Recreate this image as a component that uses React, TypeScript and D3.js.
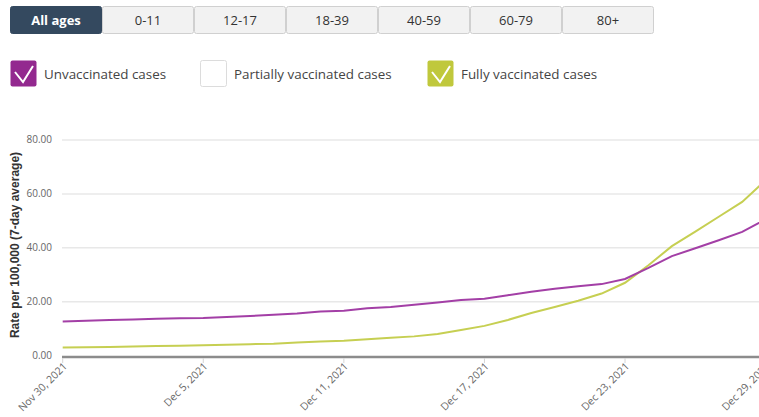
import React, { useEffect, useRef } from "react";
import * as d3 from "d3";

// age filter buttons
const ageGroups = ["All ages", "0-11", "12-17", "18-39", "40-59", "60-79", "80+"];
const activeAge = "All ages";

// legend entries
const seriesNames = ["Unvaccinated cases", "Partially vaccinated cases", "Fully vaccinated cases"];

// x tick labels, one every 6 points
const tickLabels = ["Nov 30, 2021", "Dec 5, 2021", "Dec 11, 2021", "Dec 17, 2021", "Dec 23, 2021", "Dec 29, 2021"];
const tickStep = 6;

const yTicks = [0, 20, 40, 60, 80];

// rate per 100,000 (7-day average)
const unvaccinated = [
  12.6, 12.9, 13.2, 13.4, 13.6, 13.8, 13.9, 14.3, 14.7, 15.1, 15.6, 16.3, 16.6, 17.5, 18.0, 18.8,
  19.7, 20.6, 21.1, 22.4, 23.7, 24.8, 25.7, 26.5, 28.4, 32.5, 36.9, 39.8, 42.8, 45.9, 50.5,
];
const fullyVaccinated = [
  3.0, 3.1, 3.2, 3.3, 3.5, 3.6, 3.8, 4.0, 4.2, 4.4, 4.8, 5.2, 5.5, 6.0, 6.6, 7.1,
  8.0, 9.5, 11.0, 13.2, 15.8, 18.0, 20.3, 23.0, 27.0, 33.5, 40.6, 46.0, 51.5, 57.0, 65.0,
];

const PURPLE = "#a33fa6";
const GREEN = "#c6cf52";

const RateChart = () => {
  const ref = useRef<SVGSVGElement>(null);

  useEffect(() => {
    const width = 759;
    const height = 417;
    const svg = d3.select(ref.current).attr("width", width).attr("height", height);
    svg.selectAll("*").remove();

    const font = "'Open Sans', sans-serif";

    // buttons
    const btn = svg
      .append("g")
      .selectAll("g")
      .data(ageGroups)
      .enter()
      .append("g")
      .attr("transform", (d, i) => `translate(${10 + i * 92}, 6)`);
    btn
      .append("rect")
      .attr("x", 0.5)
      .attr("y", 0.5)
      .attr("width", 91)
      .attr("height", 27)
      .attr("rx", 2)
      .attr("fill", (d) => (d === activeAge ? "#34495f" : "#f2f2f2"))
      .attr("stroke", (d) => (d === activeAge ? "#34495f" : "#d0d0d0"));
    btn
      .append("text")
      .attr("x", 46)
      .attr("y", 19)
      .attr("text-anchor", "middle")
      .style("font-family", font)
      .style("font-size", "13px")
      .style("font-weight", (d) => (d === activeAge ? "bold" : "normal"))
      .style("fill", (d) => (d === activeAge ? "#fff" : "#333"))
      .text((d) => d);

    // legend
    const legendX = [10, 200, 427];
    const legendFill = ["#93298f", "#fff", "#c0c83c"];
    const leg = svg
      .append("g")
      .selectAll("g")
      .data(seriesNames)
      .enter()
      .append("g")
      .attr("transform", (d, i) => `translate(${legendX[i]}, 60)`);
    leg
      .append("rect")
      .attr("x", 0.5)
      .attr("y", 0.5)
      .attr("width", 26)
      .attr("height", 26)
      .attr("rx", 2)
      .attr("fill", (d, i) => legendFill[i])
      .attr("stroke", (d, i) => (i === 1 ? "#dcdcdc" : "none"));
    leg
      .filter((d, i) => i !== 1)
      .append("path")
      .attr("d", "M5,12 L13,22 L23,6")
      .attr("fill", "none")
      .attr("stroke", "#fff")
      .attr("stroke-width", 2);
    leg
      .append("text")
      .attr("x", 34)
      .attr("y", 19)
      .style("font-family", font)
      .style("font-size", "13.4px")
      .style("fill", "#444")
      .text((d) => d);

    // scales
    const x = d3
      .scaleLinear()
      .domain([0, unvaccinated.length - 1])
      .range([62.7, 62.7 + 23.43 * (unvaccinated.length - 1)]);
    const y = d3.scaleLinear().domain([0, 80]).range([355.5, 140]);

    const g = svg.append("g");

    // grid + y labels
    g.selectAll("line.grid")
      .data(yTicks.filter((d) => d > 0))
      .enter()
      .append("line")
      .attr("x1", 62)
      .attr("x2", width)
      .attr("y1", (d) => y(d))
      .attr("y2", (d) => y(d))
      .attr("stroke", "#e8e8e8")
      .attr("stroke-width", 1.5);

    g.selectAll("text.ylab")
      .data(yTicks)
      .enter()
      .append("text")
      .attr("x", 52)
      .attr("y", (d) => y(d) + 3)
      .attr("text-anchor", "end")
      .style("font-family", font)
      .style("font-size", "10px")
      .style("fill", "#666")
      .text((d) => d3.format(".2f")(d));

    g.append("text")
      .attr("transform", `translate(19, 245) rotate(-90)`)
      .attr("text-anchor", "middle")
      .style("font-family", "'Liberation Sans', Arial, sans-serif")
      .style("font-size", "12px")
      .style("font-weight", "bold")
      .style("fill", "#333")
      .text("Rate per 100,000 (7-day average)");

    // x axis
    g.append("line")
      .attr("x1", 62)
      .attr("x2", width)
      .attr("y1", 357)
      .attr("y2", 357)
      .attr("stroke", "#8c8c8c")
      .attr("stroke-width", 2.5);

    const ticks = g
      .selectAll("g.xt")
      .data(tickLabels)
      .enter()
      .append("g")
      .attr("transform", (d, i) => `translate(${x(i * tickStep)}, 357)`);
    ticks
      .append("line")
      .attr("y1", 1)
      .attr("y2", 6)
      .attr("stroke", "#d5d5d5");
    ticks
      .append("text")
      .attr("transform", "translate(5, 10) rotate(-45)")
      .attr("text-anchor", "end")
      .style("font-family", font)
      .style("font-size", "10.5px")
      .style("fill", "#666")
      .text((d) => d);

    // lines
    const line = d3
      .line<number>()
      .x((d, i) => x(i))
      .y((d) => y(d));

    g.append("path")
      .datum(fullyVaccinated)
      .attr("fill", "none")
      .attr("stroke", GREEN)
      .attr("stroke-width", 2)
      .attr("d", line);

    g.append("path")
      .datum(unvaccinated)
      .attr("fill", "none")
      .attr("stroke", PURPLE)
      .attr("stroke-width", 2)
      .attr("d", line);
  }, []);

  return <svg ref={ref} width={759} height={417} style={{ display: "block" }}></svg>;
};

export default function App() {
  return (
    <div style={{ position: "fixed", left: 0, top: 0, background: "#fff" }}>
      <RateChart />
    </div>
  );
}
